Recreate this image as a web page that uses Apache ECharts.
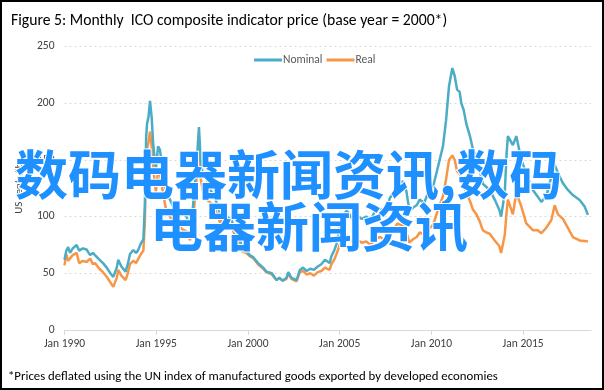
<!DOCTYPE html>
<html><head><meta charset="utf-8">
<script src="https://cdn.jsdelivr.net/npm/echarts@6/dist/echarts.min.js"></script>
<style>
html,body{margin:0;padding:0;background:#fff;}
#wrap{position:absolute;left:0;top:0;width:600px;height:386px;border:2px solid #000;}
#chart{width:600px;height:386px;}
</style></head>
<body><div id="wrap"><div id="chart"></div></div>
<script>
// decimal years (Jan 1990 = 1990.0)
const years = [1990.0,1990.1,1990.2,1990.3,1990.45,1990.66,1990.8,1991.0,1991.2,1991.4,1991.55,1991.66,1991.9,1992.1,1992.3,1992.5,1992.66,1992.72,1992.85,1992.93,1993.1,1993.33,1993.45,1993.57,1993.75,1993.9,1994.0,1994.17,1994.3,1994.38,1994.45,1994.5,1994.58,1994.66,1994.75,1994.83,1994.98,1995.1,1995.2,1995.38,1995.56,1995.75,1995.93,1996.2,1996.4,1996.65,1996.84,1997.0,1997.15,1997.25,1997.33,1997.42,1997.56,1997.7,1997.83,1998.1,1998.3,1998.47,1998.65,1998.83,1999.1,1999.38,1999.55,1999.7,1999.9,2000.1,2000.3,2000.55,2000.83,2001.0,2001.3,2001.56,2001.7,2001.9,2002.1,2002.2,2002.37,2002.65,2002.83,2003.0,2003.2,2003.4,2003.6,2003.8,2004.0,2004.2,2004.45,2004.55,2004.7,2004.83,2005.0,2005.2,2005.35,2005.46,2005.73,2005.9,2006.0,2006.2,2006.45,2006.7,2006.9,2007.2,2007.5,2007.73,2008.0,2008.15,2008.27,2008.45,2008.64,2008.8,2009.0,2009.2,2009.36,2009.6,2009.8,2010.1,2010.3,2010.45,2010.63,2010.8,2010.96,2011.14,2011.27,2011.4,2011.54,2011.63,2011.76,2011.9,2012.1,2012.27,2012.45,2012.63,2012.8,2013.0,2013.17,2013.45,2013.7,2013.8,2014.0,2014.1,2014.17,2014.44,2014.63,2014.9,2015.17,2015.53,2015.8,2015.99,2016.26,2016.54,2016.72,2016.9,2017.17,2017.44,2017.71,2018.08,2018.35,2018.53];
const nominal = [62,70,73,68,72,75,70,72,71,66,68,66,62,59,55,50,46.8,45.5,55,62,56,51.5,58,67,70.5,68,70,76.5,80,110,170,182,188,202,188,165,141,162,159,138,121,115,109,108,103,100,91,108,140,159,179,150,135,140,126,120,112,103,106,100,97,85,80,72,70,66,64,59,55,51.5,50,44,46,43.5,46,51,46,44,53,55,52,54,53,56,58,62,59,65,70,76,90,100,105,104,97,92,100,98,100,97,104,107,104,116,123,130,130,131,122,105,108,110,115,112,120,127,140,150,162,185,215,231,224,212,210,200,194,182,171,159,153,141,129,126,124,115,106,100,121,156,171,163,171,150,138.5,123.5,117.6,113,117.6,135,145.6,138.5,129.4,123.5,119,114.7,109,101.5];
const real = [57,67,61,60,66,68,59,61,60,63,58,59,54,51,47,42,38,37,46,53,48,44,50,58,61,59,62,67,70,95,150,160,166,175,162,143,122,140,138,120,104,100,95,94,89,87,79,95,124,142,160,134,121,126,114,110,103,95,98,93,91,80,76,69,68,65,63,58,54,51,49,44,46,43.5,45,50,45,43,51,52,49,50,48,51,52,55,53,58,62,67,75,82,84,82,77,73,79,77,78,75,80,82,79,87,90,94,93,92,86,77,80,82,86,84,88,93,103,110,118,133,150,154,150,140,138,132,128,121,114,106,102,96,88,86,85,79,74,68,84,104,115,102,121,109,94,88,88,85.3,90,97,110,102,98,90,82,79,78.5,78];
const tickYears = [1990,1995,2000,2005,2010,2015];
const tickLabels = ['Jan 1990','Jan 1995','Jan 2000','Jan 2005','Jan 2010','Jan 2015'];
const seriesNames = ['Nominal','Real'];
const titleText = 'Figure 5: Monthly  ICO composite indicator price (base year = 2000*)';
const yName = 'US cents/lb';
const footnote = '*Prices deflated using the UN index of manufactured goods exported by developed economies';
const watermark1 = '数码电器新闻资讯,数码';
const watermark2 = '电器新闻资讯';

const FONT = 'Carlito, Calibri, Lato, "Open Sans", sans-serif';
const chart = echarts.init(document.getElementById('chart'), null, {renderer:'canvas'});
const pair = arr => years.map((y,i)=>[y,arr[i]]);
chart.setOption({
  animation:false,
  title:{text:titleText,left:4,top:6,textStyle:{fontFamily:FONT,fontSize:15.7,fontWeight:'normal',color:'#000'}},
  legend:{top:47,left:247,itemWidth:28,itemHeight:3,itemGap:4,icon:'rect',
    textStyle:{fontFamily:FONT,fontSize:11.5,color:'#595959',padding:[0,0,0,-4]},data:seriesNames},
  grid:{left:62.5,right:11,top:44.5,bottom:58},
  xAxis:{type:'value',min:1990,max:2018.7,
    axisLine:{show:true,lineStyle:{color:'#D9D9D9',width:1}},
    axisTick:{show:true,customValues:tickYears,length:5,inside:false,lineStyle:{color:'#D9D9D9'}},
    axisLabel:{customValues:tickYears,formatter:v=>tickLabels[tickYears.indexOf(Math.round(v))]||'',
      fontFamily:FONT,fontSize:11.5,color:'#404040',margin:8},
    splitLine:{show:false}},
  yAxis:{type:'value',min:0,max:250,interval:50,name:yName,nameLocation:'middle',nameGap:40,
    nameTextStyle:{fontFamily:FONT,fontSize:11,color:'#404040'},
    axisLine:{show:false},axisTick:{show:false},
    axisLabel:{fontFamily:FONT,fontSize:11.5,color:'#404040',margin:10},
    splitLine:{lineStyle:{color:'#D9D9D9',type:[2,3],width:1}}},
  series:[
    {name:seriesNames[0],type:'line',data:pair(nominal),showSymbol:false,lineStyle:{color:'#4BACC6',width:2.5},itemStyle:{color:'#4BACC6'},z:3},
    {name:seriesNames[1],type:'line',data:pair(real),showSymbol:false,lineStyle:{color:'#F79646',width:2.5},itemStyle:{color:'#F79646'},z:2}
  ],
  graphic:[
    {type:'text',left:6,top:368,style:{text:footnote,font:'12.8px '+FONT,fill:'#000'}},
    {type:'text',left:12,top:145,z:100,style:{text:watermark1,font:'bold 53px "Noto Sans CJK SC"',fill:'#1E90FF',stroke:'#fff',lineWidth:2}},
    {type:'text',left:147,top:197,z:100,style:{text:watermark2,font:'bold 53px "Noto Sans CJK SC"',fill:'#1E90FF',stroke:'#fff',lineWidth:2}}
  ]
});
</script></body></html>
